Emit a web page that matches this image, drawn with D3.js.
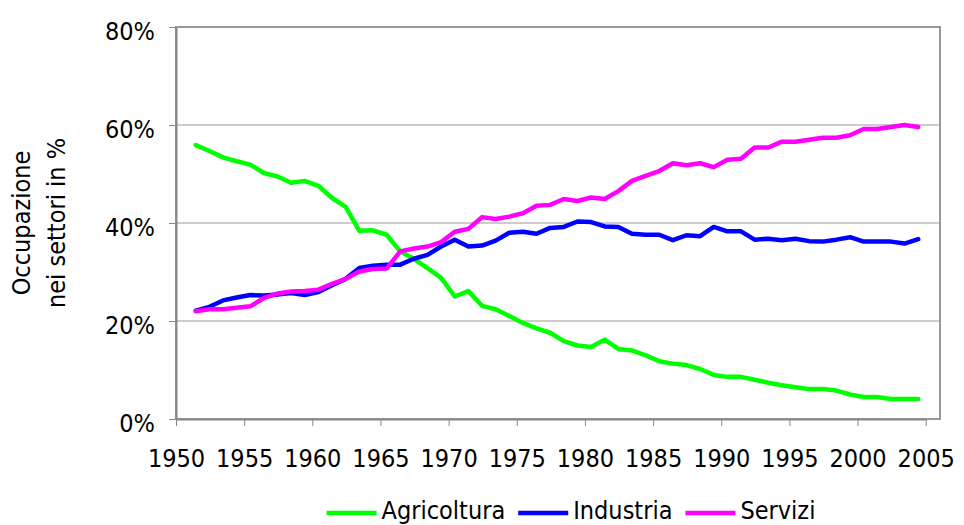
<!DOCTYPE html>
<html>
<head>
<meta charset="utf-8">
<script src="https://cdn.jsdelivr.net/npm/d3@7"></script>
<style>
  body { margin: 0; background: #fff; }
  svg text { font-family: "DejaVu Sans Condensed", "DejaVu Sans", sans-serif; font-stretch: condensed; fill: #000; }
</style>
</head>
<body>
<div id="chart"></div>
<script>
var years = [1951,1952,1953,1954,1955,1956,1957,1958,1959,1960,1961,1962,1963,1964,
             1965,1966,1967,1968,1969,1970,1971,1972,1973,1974,1975,1976,1977,1978,
             1979,1980,1981,1982,1983,1984,1985,1986,1987,1988,1989,1990,1991,1992,
             1993,1994,1995,1996,1997,1998,1999,2000,2001,2002,2003,2004];

var agricoltura = [55.9,54.7,53.4,52.6,51.9,50.2,49.5,48.2,48.6,47.6,45.1,43.3,38.4,38.5,
                   37.6,34.2,32.7,30.8,28.8,25.0,26.1,23.1,22.4,21.0,19.6,18.5,17.6,15.9,
                   15.0,14.7,16.2,14.3,14.0,13.0,11.8,11.3,11.0,10.2,9.0,8.6,8.6,8.0,
                   7.4,6.9,6.5,6.1,6.1,5.8,5.0,4.5,4.5,4.1,4.1,4.1];

var industria = [22.1,22.9,24.2,24.8,25.3,25.2,25.4,25.7,25.3,25.9,27.3,28.6,30.8,31.3,
                 31.5,31.5,32.7,33.5,35.2,36.6,35.2,35.4,36.4,38.0,38.2,37.8,39.0,39.2,
                 40.3,40.2,39.3,39.2,37.8,37.6,37.6,36.5,37.5,37.3,39.2,38.3,38.3,36.6,
                 36.8,36.5,36.8,36.3,36.2,36.6,37.1,36.2,36.2,36.2,35.8,36.7];

var servizi = [22.0,22.4,22.4,22.7,23.0,24.7,25.6,26.0,26.1,26.4,27.6,28.6,30.1,30.6,
               30.7,34.2,34.8,35.2,36.1,38.2,38.8,41.2,40.8,41.3,42.0,43.5,43.7,44.9,
               44.5,45.2,44.9,46.5,48.6,49.6,50.6,52.2,51.8,52.2,51.4,52.9,53.1,55.4,
               55.4,56.6,56.6,57.0,57.4,57.4,57.9,59.2,59.2,59.6,60.0,59.6];

var seriesNames = ['Agricoltura', 'Industria', 'Servizi'];
var seriesColors = ['#00ff00', '#0000ff', '#ff00ff'];
var xTicks = [1950,1955,1960,1965,1970,1975,1980,1985,1990,1995,2000,2005];
var yTicks = [0, 20, 40, 60, 80];

var width = 964, height = 525;
var plot = {left: 176, top: 27, right: 940, bottom: 419};
var fontSize = 25;

var svg = d3.select('#chart').append('svg')
  .attr('width', width)
  .attr('height', height);

// category axis: points sit a bit right of the year tick
var pointOffset = 0.45;
var x = d3.scaleLinear().domain([1950, 2005]).range([plot.left, 925.7]);
var y = d3.scaleLinear().domain([0, 80]).range([plot.bottom, plot.top]);

// gridlines
svg.append('g')
  .selectAll('line')
  .data(yTicks.slice(1, -1))
  .enter().append('line')
  .attr('x1', plot.left).attr('x2', plot.right)
  .attr('y1', function(d){ return y(d); })
  .attr('y2', function(d){ return y(d); })
  .attr('stroke', '#999')
  .attr('stroke-width', 1);

// plot frame
svg.append('rect')
  .attr('x', plot.left).attr('y', plot.top)
  .attr('width', plot.right - plot.left)
  .attr('height', plot.bottom - plot.top)
  .attr('fill', 'none')
  .attr('stroke', '#999')
  .attr('stroke-width', 2);

var xAxis = svg.append('g')
  .attr('transform', 'translate(0,' + plot.bottom + ')')
  .call(d3.axisBottom(x).tickValues(xTicks).tickFormat(d3.format('d'))
    .tickSize(7).tickPadding(23).tickSizeOuter(0));

var yAxis = svg.append('g')
  .attr('transform', 'translate(' + plot.left + ',0)')
  .call(d3.axisLeft(y).tickValues(yTicks).tickFormat(function(d){ return d + '%'; })
    .tickSize(7).tickPadding(14).tickSizeOuter(0));

[xAxis, yAxis].forEach(function(ax){
  ax.select('.domain').attr('stroke', '#888').attr('stroke-width', 2);
  ax.selectAll('.tick line').attr('stroke', '#888');
  ax.selectAll('text').attr('font-size', fontSize + 'px')
    .attr('font-family', null);
});
yAxis.selectAll('text').attr('dy', '12px');

// axis title
var title = svg.append('text')
  .attr('transform', 'translate(0,223) rotate(-90)')
  .attr('text-anchor', 'middle')
  .attr('font-size', fontSize + 'px');
title.append('tspan').attr('x', 0).attr('y', 30).text('Occupazione');
title.append('tspan').attr('x', 0).attr('y', 65).text('nei settori in %');

// lines
var allSeries = [agricoltura, industria, servizi];
var line = d3.line()
  .x(function(d, i){ return x(years[i] + pointOffset); })
  .y(function(d){ return y(d); });

svg.append('g')
  .selectAll('path')
  .data(allSeries)
  .enter().append('path')
  .attr('d', line)
  .attr('fill', 'none')
  .attr('stroke', function(d, i){ return seriesColors[i]; })
  .attr('stroke-width', 4.5)
  .attr('stroke-linejoin', 'round')
  .attr('stroke-linecap', 'round');

// legend, centred under the chart
var legend = svg.append('g');
var cursor = 0;
seriesNames.forEach(function(name, i){
  var item = legend.append('g').attr('transform', 'translate(' + cursor + ',0)');
  item.append('line')
    .attr('x1', 0).attr('x2', 50).attr('y1', 0).attr('y2', 0)
    .attr('stroke', seriesColors[i]).attr('stroke-width', 4.5);
  var t = item.append('text')
    .attr('x', 55).attr('y', 6)
    .attr('font-size', fontSize + 'px')
    .text(name);
  cursor += 55 + t.node().getComputedTextLength() + 13;
});
var legendWidth = cursor - 13;
legend.attr('transform', 'translate(' + (571 - legendWidth / 2) + ',513)');
</script>
</body>
</html>
